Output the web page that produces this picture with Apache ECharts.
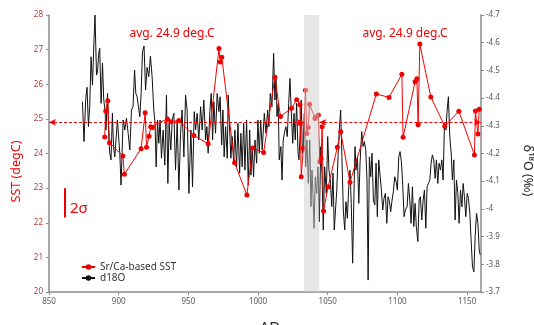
<!DOCTYPE html>
<html>
<head>
<meta charset="utf-8">
<script src="https://cdn.jsdelivr.net/npm/echarts@6/dist/echarts.min.js"></script>
<style>
  html, body { margin: 0; padding: 0; background: #fff; }
  #chart { width: 534px; height: 325px; }
</style>
</head>
<body>
<div id="chart"></div>
<script>
// Sr/Ca-based SST: [year AD, degC]
const sstPoints = [
  [890.0, 24.48], [890.7, 25.23], [892.2, 25.52], [893.4, 24.31], [903.0, 23.93], [904.1, 23.40],
  [916.1, 24.14], [919.0, 25.18], [920.0, 24.18], [921.8, 24.50], [923.0, 24.77], [924.3, 24.75],
  [935.0, 25.00], [937.4, 24.92], [943.2, 24.95], [954.0, 24.52], [964.2, 24.28], [972.0, 27.03],
  [972.9, 26.64], [974.0, 26.78], [983.2, 23.73], [992.0, 22.80], [996.1, 24.16], [1004.0, 24.03],
  [1012.1, 26.20], [1016.1, 25.07], [1024.1, 25.31], [1027.7, 25.55], [1030.1, 25.41], [1030.3, 24.87],
  [1031.0, 23.33], [1032.5, 24.15], [1034.0, 25.83], [1035.0, 24.58], [1036.0, 24.75], [1037.0, 25.42],
  [1040.9, 25.01], [1042.0, 25.06], [1043.3, 25.11], [1044.3, 23.76], [1045.2, 23.86], [1046.0, 24.77],
  [1047.0, 22.34], [1050.3, 23.04], [1056.9, 24.18], [1059.3, 24.63], [1066.0, 23.17], [1084.9, 25.72],
  [1094.0, 25.62], [1103.2, 26.29], [1104.1, 24.47], [1112.7, 26.07], [1114.0, 26.16], [1114.9, 24.83],
  [1116.1, 27.16], [1124.0, 25.63], [1134.0, 24.79], [1144.1, 25.22], [1155.3, 23.96], [1156.0, 25.23],
  [1157.8, 24.56], [1158.7, 25.28]
]

// d18O: [year AD, permil]
const d18oPoints = [
  [874.0, -4.387], [875.1, -4.243], [876.4, -4.399], [877.3, -4.439], [878.3, -4.297], [879.2, -4.369],
  [880.2, -4.549], [881.2, -4.447], [882.3, -4.610], [883.0, -4.700], [884.1, -4.483], [884.8, -4.495],
  [885.7, -4.562], [886.4, -4.580], [887.4, -4.381], [888.4, -4.526], [889.3, -4.393], [890.2, -4.357],
  [890.9, -4.285], [892.0, -4.417], [892.9, -4.255], [893.6, -4.201], [894.5, -4.177], [895.5, -4.345],
  [896.3, -4.225], [897.2, -4.188], [899.1, -4.321], [900.8, -4.201], [901.7, -4.086], [903.2, -4.321],
  [904.4, -4.285], [905.6, -4.327], [906.8, -4.273], [908.0, -4.213], [909.2, -4.357], [910.3, -4.369],
  [911.4, -4.501], [912.3, -4.417], [913.2, -4.405], [914.2, -4.369], [915.2, -4.333], [916.1, -4.417],
  [917.1, -4.568], [918.2, -4.588], [919.3, -4.429], [920.4, -4.511], [921.6, -4.477], [922.8, -4.552],
  [924.0, -4.477], [925.2, -4.357], [926.1, -4.309], [926.9, -4.152], [927.9, -4.321], [928.8, -4.237],
  [929.7, -4.321], [930.7, -4.183], [931.9, -4.285], [933.1, -4.158], [934.3, -4.411], [935.3, -4.092],
  [936.2, -4.309], [937.4, -4.213], [938.4, -4.321], [939.6, -4.345], [940.8, -4.140], [942.0, -4.321],
  [943.2, -4.068], [944.4, -4.273], [945.5, -4.357], [946.8, -4.188], [948.0, -4.411], [949.1, -4.357],
  [950.4, -4.056], [951.8, -4.285], [953.0, -4.080], [954.2, -4.351], [955.2, -4.285], [956.3, -4.345],
  [957.5, -4.249], [958.8, -4.369], [959.9, -4.285], [961.1, -4.393], [962.4, -4.249], [963.3, -4.297],
  [964.2, -4.201], [965.4, -4.351], [966.4, -4.417], [967.4, -4.249], [968.3, -4.387], [969.5, -4.273],
  [970.7, -4.417], [971.9, -4.351], [972.8, -4.405], [973.9, -4.231], [974.8, -4.357], [975.7, -4.188],
  [976.7, -4.297], [977.9, -4.183], [978.6, -4.411], [979.6, -4.411], [980.5, -4.183], [981.5, -4.261],
  [982.5, -4.170], [983.4, -4.285], [984.6, -4.152], [985.6, -4.309], [986.8, -4.129], [987.7, -4.273],
  [988.6, -4.152], [989.7, -4.309], [990.6, -4.140], [991.8, -4.321], [993.0, -4.086], [994.0, -4.285],
  [994.9, -4.122], [995.8, -4.225], [996.8, -4.116], [997.8, -4.249], [999.0, -4.165], [999.9, -4.321],
  [1000.9, -4.201], [1001.9, -4.321], [1003.0, -4.213], [1004.5, -4.345], [1005.7, -4.273], [1006.9, -4.357],
  [1007.8, -4.297], [1008.8, -4.417], [1010.0, -4.369], [1011.2, -4.562], [1012.1, -4.393], [1012.9, -4.483],
  [1013.6, -4.333], [1014.5, -4.381], [1015.2, -4.177], [1016.4, -4.225], [1017.2, -4.104], [1018.1, -4.249],
  [1019.1, -4.279], [1020.0, -4.297], [1021.0, -4.261], [1022.0, -4.381], [1022.9, -4.471], [1023.8, -4.357],
  [1024.9, -4.237], [1025.8, -4.345], [1026.7, -4.249], [1027.7, -4.381], [1028.7, -4.201], [1029.4, -4.177],
  [1030.3, -4.285], [1031.0, -4.393], [1031.8, -4.201], [1032.5, -4.225], [1033.2, -4.345], [1034.2, -4.152],
  [1035.1, -4.249], [1036.1, -4.092], [1037.1, -4.249], [1038.0, -4.008], [1038.7, -4.140], [1039.4, -4.056],
  [1040.2, -3.930], [1041.1, -4.116], [1042.1, -4.056], [1043.0, -4.152], [1044.0, -3.954], [1045.0, -4.225],
  [1045.9, -4.129], [1046.8, -3.924], [1047.8, -4.152], [1049.0, -4.056], [1050.0, -4.261], [1050.9, -4.140],
  [1051.9, -4.104], [1052.9, -4.008], [1053.8, -4.129], [1054.7, -3.924], [1056.5, -4.068], [1057.4, -4.188],
  [1058.3, -4.285], [1059.3, -4.357], [1060.3, -4.165], [1061.2, -3.996], [1062.2, -3.924], [1063.1, -4.026],
  [1064.1, -3.966], [1065.1, -4.080], [1066.0, -4.140], [1066.9, -4.020], [1067.9, -3.804], [1068.9, -4.068],
  [1069.6, -4.225], [1070.3, -4.140], [1071.3, -4.188], [1072.3, -4.020], [1073.2, -4.165], [1074.4, -4.279],
  [1075.4, -4.225], [1076.3, -4.243], [1077.3, -4.213], [1078.2, -4.104], [1079.0, -3.743], [1079.9, -4.188],
  [1080.9, -4.116], [1081.8, -4.201], [1082.8, -4.032], [1083.8, -4.014], [1084.7, -4.165], [1085.6, -3.972],
  [1086.6, -4.177], [1087.6, -4.183], [1088.5, -4.068], [1089.5, -3.996], [1090.4, -4.038], [1091.4, -4.056],
  [1092.4, -3.948], [1093.3, -4.044], [1094.3, -4.026], [1095.2, -3.990], [1096.2, -4.032], [1097.1, -4.062],
  [1098.1, -4.116], [1099.1, -4.098], [1100.0, -4.068], [1101.0, -4.188], [1101.9, -4.207], [1102.9, -4.170],
  [1103.9, -4.080], [1104.8, -3.972], [1105.7, -3.996], [1107.0, -4.008], [1107.9, -4.092], [1108.9, -4.032],
  [1109.8, -3.948], [1110.8, -4.080], [1111.8, -3.936], [1112.7, -4.020], [1113.6, -3.936], [1114.7, -3.882],
  [1115.6, -4.032], [1116.5, -4.044], [1117.5, -3.960], [1118.5, -4.032], [1119.4, -4.068], [1120.4, -3.930],
  [1121.3, -4.080], [1122.3, -4.092], [1123.3, -4.104], [1124.2, -4.165], [1125.1, -4.195], [1126.1, -4.177],
  [1127.1, -4.110], [1128.0, -4.177], [1129.0, -4.092], [1129.9, -4.165], [1130.9, -4.140], [1131.9, -4.177],
  [1132.8, -4.104], [1133.8, -4.309], [1134.8, -4.285], [1135.7, -4.357], [1136.6, -4.405], [1137.6, -4.261],
  [1138.6, -4.201], [1139.5, -4.104], [1140.5, -4.177], [1141.4, -3.960], [1142.4, -4.104], [1143.4, -4.056],
  [1144.3, -3.948], [1145.3, -4.068], [1146.3, -4.008], [1147.2, -4.092], [1148.1, -4.044], [1149.1, -3.972],
  [1150.1, -4.056], [1151.0, -4.038], [1152.0, -3.984], [1152.9, -3.888], [1153.9, -3.791], [1154.9, -3.773],
  [1155.8, -3.900], [1156.8, -3.984], [1157.8, -3.948], [1158.7, -3.852], [1159.4, -3.834]
]

const avgSST = 24.9
const avgPeriods = [[850, 1033], [1044, 1160]]
const gapBand = [1033, 1044]
const sigmaBar = [861, 22.15, 23.0] // year, bottom, top

const red = '#f00000'
const font = 'Noto Sans'

const dashStyle = { color: red, type: [3, 2], width: 1 }

const chart = echarts.init(document.getElementById('chart'), null, { renderer: 'canvas' })

chart.setOption({
  animation: false,
  textStyle: { fontFamily: font },
  grid: { left: 49, right: 53, top: 15, bottom: 33, outerBoundsMode: 'none' },
  legend: {
    data: ['Sr/Ca-based SST', 'd18O'],
    orient: 'vertical',
    left: 76,
    top: 257,
    itemWidth: 13,
    itemHeight: 7,
    itemGap: 1,
    textStyle: { fontSize: 10, color: '#333', fontFamily: font }
  },
  xAxis: {
    type: 'value',
    min: 850,
    max: 1160,
    interval: 50,
    name: 'AD',
    nameLocation: 'middle',
    nameGap: 28,
    nameTextStyle: { fontSize: 15, color: '#222', padding: [0, 0, 0, 10] },
    axisLine: { lineStyle: { color: '#8c8c8c', width: 1.5 } },
    axisTick: { show: true, length: 3, lineStyle: { color: '#8c8c8c' } },
    axisLabel: { fontSize: 8, color: '#595959', margin: 6, showMaxLabel: false, formatter: v => String(v) },
    splitLine: { show: false }
  },
  yAxis: [
    {
      type: 'value',
      min: 20,
      max: 28,
      interval: 1,
      name: 'SST (degC)',
      nameLocation: 'middle',
      nameGap: 24,
      nameTextStyle: { fontSize: 12.5, color: red, padding: [0, 36, 0, 0] },
      axisLine: { show: true, lineStyle: { color: '#8c8c8c', width: 1.5 } },
      axisTick: { show: true, length: 3, lineStyle: { color: '#8c8c8c' } },
      axisLabel: { fontSize: 8, color: '#b5393b', margin: 6 },
      splitLine: { show: false }
    },
    {
      type: 'value',
      position: 'right',
      inverse: true,
      min: -4.7,
      max: -3.7,
      interval: 0.1,
      name: 'δ¹⁸O (‰)',
      nameLocation: 'middle',
      nameRotate: -90,
      nameGap: 40,
      nameTextStyle: { fontSize: 12.5, color: '#222', padding: [0, 0, 0, 34] },
      axisLine: { show: true, lineStyle: { color: '#8c8c8c', width: 1.5 } },
      axisTick: { show: true, length: 3, lineStyle: { color: '#8c8c8c' } },
      axisLabel: { fontSize: 8, color: '#595959', margin: 5 },
      splitLine: { show: false }
    }
  ],
  series: [
    {
      name: 'd18O',
      type: 'line',
      yAxisIndex: 1,
      data: d18oPoints,
      showSymbol: false,
      symbol: 'none',
      lineStyle: { color: '#111', width: 1 },
      itemStyle: { color: '#111' },
      z: 2
    },
    {
      name: 'Sr/Ca-based SST',
      type: 'line',
      yAxisIndex: 0,
      data: sstPoints,
      symbol: 'circle',
      symbolSize: 5,
      lineStyle: { color: red, width: 1 },
      itemStyle: { color: red },
      z: 3,
      markLine: {
        silent: true,
        animation: false,
        label: { show: false },
        symbol: ['arrow', 'arrow'],
        symbolSize: [5, 7],
        itemStyle: { color: red },
        lineStyle: dashStyle,
        data: avgPeriods.map(p => [
          { coord: [p[0], avgSST], lineStyle: dashStyle, itemStyle: { color: red } },
          { coord: [p[1], avgSST], itemStyle: { color: red } }
        ]).concat([[
          { coord: [sigmaBar[0], sigmaBar[2]], symbol: 'none', lineStyle: { type: 'solid', width: 2, color: red } },
          { coord: [sigmaBar[0], sigmaBar[1]], symbol: 'none' }
        ]])
      }
    },
    {
      name: 'band',
      type: 'line',
      data: [],
      z: 10,
      markArea: {
        silent: true,
        z: 20,
        itemStyle: { color: 'rgba(205,205,205,0.5)' },
        data: [[{ xAxis: gapBand[0] }, { xAxis: gapBand[1] }]]
      }
    }
  ],
  graphic: [
    { type: 'text', x: 172, y: 34, style: { text: 'avg. 24.9 deg.C', fill: red, font: '12px "Noto Sans"', textAlign: 'center', textVerticalAlign: 'middle' } },
    { type: 'text', x: 405, y: 34, style: { text: 'avg. 24.9 deg.C', fill: red, font: '12px "Noto Sans"', textAlign: 'center', textVerticalAlign: 'middle' } },
    { type: 'text', x: 70, y: 209, style: { text: '2σ', fill: red, font: '15px "Noto Sans"', textAlign: 'left', textVerticalAlign: 'middle' } }
  ]
})
</script>
</body>
</html>
